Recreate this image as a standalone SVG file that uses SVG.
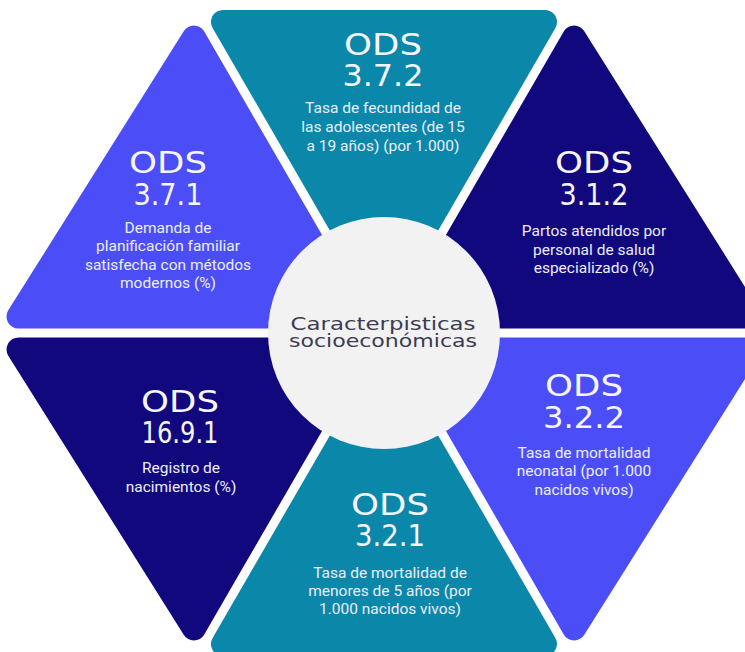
<svg xmlns="http://www.w3.org/2000/svg" width="745" height="652" viewBox="0 0 745 652">
<style>
.tri{stroke-width:24;stroke-linejoin:round}
.teal{fill:#0b87a9;stroke:#0b87a9}
.blue{fill:#4b4ef6;stroke:#4b4ef6}
.navy{fill:#12087e;stroke:#12087e}
.ods{font-family:"DejaVu Sans","Liberation Sans",sans-serif;font-size:30px;fill:#f5f5fb;text-anchor:middle}
.desc{font-family:Roboto,"Liberation Sans",sans-serif;font-size:15.5px;fill:#eceef9;text-anchor:middle}
.ctr{font-family:"DejaVu Sans","Liberation Sans",sans-serif;font-size:18px;fill:#3b3b52;text-anchor:middle}
</style>
<rect width="745" height="652" fill="#ffffff"/>
<g id="connectors"></g>
<g id="node-ods-3-7-2">
<polygon class="tri teal" points="222.98,22 545.02,22 384,300.1"/>
<text class="ods" x="383" y="55" textLength="78" lengthAdjust="spacingAndGlyphs">ODS</text>
<text class="ods" x="383" y="86" textLength="81" lengthAdjust="spacingAndGlyphs">3.7.2</text>
<text class="desc" x="383" y="113">Tasa de fecundidad de</text>
<text class="desc" x="383" y="132">las adolescentes (de 15</text>
<text class="desc" x="383" y="151">a 19 años) (por 1.000)</text>
</g>
<g id="node-ods-3-1-2">
<polygon class="tri navy" points="574.13,37.53 749.44,316.5 412.62,316.5"/>
<text class="ods" x="594" y="173" textLength="78" lengthAdjust="spacingAndGlyphs">ODS</text>
<text class="ods" x="594" y="205" textLength="69" lengthAdjust="spacingAndGlyphs">3.1.2</text>
<text class="desc" x="594" y="236">Partos atendidos por</text>
<text class="desc" x="594" y="255">personal de salud</text>
<text class="desc" x="594" y="273">especializado (%)</text>
</g>
<g id="node-ods-3-7-1">
<polygon class="tri blue" points="193.87,37.53 18.56,316.5 355.38,316.5"/>
<text class="ods" x="168" y="173" textLength="78" lengthAdjust="spacingAndGlyphs">ODS</text>
<text class="ods" x="168" y="205" textLength="69" lengthAdjust="spacingAndGlyphs">3.7.1</text>
<text class="desc" x="168" y="233">Demanda de</text>
<text class="desc" x="168" y="251">planificación familiar</text>
<text class="desc" x="168" y="270">satisfecha con métodos</text>
<text class="desc" x="168" y="288">modernos (%)</text>
</g>
<g id="node-ods-16-9-1">
<polygon class="tri navy" points="193.87,628.47 18.56,349.5 355.38,349.5"/>
<text class="ods" x="180" y="412" textLength="78" lengthAdjust="spacingAndGlyphs">ODS</text>
<text class="ods" x="180" y="443" textLength="77" lengthAdjust="spacingAndGlyphs">16.9.1</text>
<text class="desc" x="181" y="473">Registro de</text>
<text class="desc" x="181" y="492">nacimientos (%)</text>
</g>
<g id="node-ods-3-2-1">
<polygon class="tri teal" points="222.98,644 545.02,644 384,365.9"/>
<text class="ods" x="390" y="515" textLength="78" lengthAdjust="spacingAndGlyphs">ODS</text>
<text class="ods" x="390" y="546" textLength="70" lengthAdjust="spacingAndGlyphs">3.2.1</text>
<text class="desc" x="390" y="578">Tasa de mortalidad de</text>
<text class="desc" x="390" y="596">menores de 5 años (por</text>
<text class="desc" x="390" y="614">1.000 nacidos vivos)</text>
</g>
<g id="node-ods-3-2-2">
<polygon class="tri blue" points="574.13,628.47 749.44,349.5 412.62,349.5"/>
<text class="ods" x="584" y="396" textLength="78" lengthAdjust="spacingAndGlyphs">ODS</text>
<text class="ods" x="584" y="428" textLength="82" lengthAdjust="spacingAndGlyphs">3.2.2</text>
<text class="desc" x="584" y="458">Tasa de mortalidad</text>
<text class="desc" x="584" y="476">neonatal (por 1.000</text>
<text class="desc" x="584" y="495">nacidos vivos)</text>
</g>
<g id="node-center">
<circle cx="384" cy="333" r="116" fill="#f2f2f3"/>
<text class="ctr" x="383" y="330" textLength="185" lengthAdjust="spacingAndGlyphs">Caracterpisticas</text>
<text class="ctr" x="383" y="347" textLength="188" lengthAdjust="spacingAndGlyphs">socioeconómicas</text>
</g>
</svg>
